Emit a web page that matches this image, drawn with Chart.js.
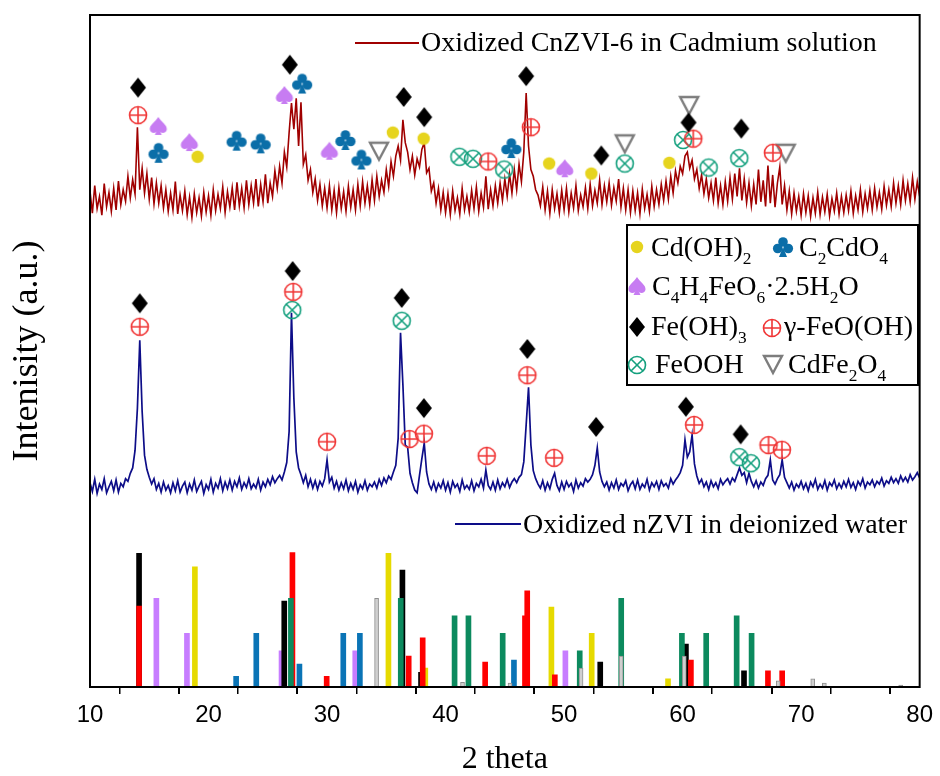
<!DOCTYPE html>
<html>
<head>
<meta charset="utf-8">
<script src="https://cdn.jsdelivr.net/npm/chart.js@4.4.1/dist/chart.umd.min.js"></script>
<style>
  html, body { margin: 0; padding: 0; background: #fff; }
  canvas { display: block; }
</style>
</head>
<body>
<canvas id="xrd" width="940" height="776"></canvas>
<script>
// x grid of the scans (2 theta, degrees)
const thetaStart = 10;
const thetaStep = 0.2;
const xMajorTicks = [10, 20, 30, 40, 50, 60, 70, 80];

// Oxidized nZVI in deionized water (offset, a.u.)
const blueTrace = [
  30.4, 29.1, 30.9, 28.8, 30.2, 29.4, 31.0, 28.9, 29.8, 30.6, // 10
  29.2, 30.8, 29.0, 30.3, 29.8, 31.0, 30.6, 31.8, 32.6, 35.2, // 12
  41.5, 51.6, 41.0, 34.5, 32.4, 31.2, 30.2, 31.0, 29.4, 30.3, // 14
  29.0, 30.5, 29.3, 30.0, 28.9, 30.4, 29.2, 30.7, 29.0, 29.9, // 16
  30.5, 28.9, 30.2, 29.3, 30.8, 29.1, 29.9, 30.6, 28.8, 30.1, // 18
  29.4, 30.9, 29.0, 30.3, 29.6, 31.0, 29.2, 30.5, 29.5, 30.8, // 20
  29.3, 30.6, 29.8, 31.1, 29.4, 30.4, 29.7, 31.0, 29.5, 30.2, // 22
  29.6, 30.9, 29.3, 30.5, 29.8, 30.9, 30.1, 31.3, 30.4, 31.0, // 24
  31.5, 30.8, 32.0, 33.4, 38.0, 55.7, 43.0, 35.0, 32.6, 31.6, // 26
  30.4, 31.5, 29.8, 30.9, 29.6, 30.7, 29.4, 30.6, 29.9, 31.0, // 28
  33.8, 30.5, 31.2, 29.6, 30.6, 29.3, 30.4, 29.5, 30.8, 29.2, // 30
  30.3, 29.4, 30.6, 29.0, 30.1, 29.5, 30.7, 29.3, 30.2, 29.8, // 32
  30.5, 29.6, 30.9, 30.0, 31.1, 30.4, 31.4, 30.9, 32.0, 33.0, // 34
  37.0, 52.7, 45.0, 36.0, 35.7, 31.8, 30.4, 29.3, 28.9, 31.5, // 36
  34.0, 36.3, 32.0, 30.2, 29.4, 30.5, 29.2, 30.3, 29.6, 30.7, // 38
  29.3, 30.4, 29.0, 30.6, 29.7, 30.2, 29.1, 30.8, 29.5, 30.0, // 40
  29.4, 30.7, 29.2, 30.3, 29.8, 30.9, 29.6, 32.3, 30.0, 29.4, // 42
  30.5, 29.3, 30.8, 29.5, 30.4, 29.8, 30.9, 29.7, 30.5, 31.0, // 44
  30.4, 31.2, 31.6, 33.5, 39.0, 44.6, 36.0, 32.2, 31.0, 30.2, // 46
  29.6, 30.7, 29.3, 30.4, 29.5, 30.9, 31.8, 30.0, 29.2, 30.5, // 48
  29.4, 30.6, 29.8, 30.3, 29.1, 30.8, 29.6, 30.4, 29.9, 31.0, // 50
  30.5, 30.9, 31.6, 33.0, 35.6, 32.0, 30.6, 29.8, 30.5, 29.3, // 52
  30.4, 29.6, 30.8, 29.4, 30.3, 29.9, 30.7, 29.2, 30.1, 30.6, // 54
  29.5, 30.8, 29.4, 30.2, 29.7, 30.9, 29.3, 30.4, 29.8, 30.6, // 56
  29.4, 30.7, 29.9, 30.3, 29.6, 31.0, 30.2, 30.8, 31.3, 31.9, // 58
  33.0, 36.8, 34.2, 35.0, 37.5, 33.2, 31.4, 30.3, 30.9, 29.8, // 60
  30.5, 29.4, 30.7, 29.8, 30.4, 29.5, 30.9, 30.1, 30.6, 31.0, // 62
  30.2, 31.1, 30.6, 31.6, 32.6, 31.5, 31.9, 30.4, 31.8, 30.6, // 64
  29.8, 30.7, 29.6, 30.5, 30.0, 31.0, 31.5, 33.8, 30.8, 30.2, // 66
  31.0, 31.6, 33.8, 31.2, 30.4, 29.6, 30.5, 29.3, 30.2, 29.7, // 68
  30.6, 29.5, 30.3, 29.2, 30.5, 29.8, 30.9, 29.4, 30.2, 29.6, // 70
  30.7, 29.3, 30.4, 29.9, 30.8, 29.5, 30.3, 29.6, 30.6, 29.8, // 72
  30.9, 29.7, 30.4, 29.4, 30.6, 30.0, 31.0, 29.6, 30.5, 30.1, // 74
  30.8, 29.8, 30.6, 30.2, 31.1, 29.9, 30.7, 30.3, 31.2, 30.4, // 76
  31.0, 30.3, 31.4, 30.6, 31.2, 30.5, 31.6, 30.8, 31.3, 31.9, // 78
  31.1
];

// Oxidized CnZVI-6 in Cadmium solution (offset, a.u.)
const redTrace = [
  73.8, 70.5, 74.6, 71.2, 73.0, 70.2, 74.9, 71.5, 73.6, 70.8, // 10
  74.2, 71.0, 75.3, 71.8, 74.0, 72.3, 76.0, 72.8, 75.5, 73.4, // 12
  83.3, 74.0, 77.2, 73.5, 76.4, 72.6, 75.8, 71.9, 75.0, 72.0, // 14
  74.6, 71.3, 74.0, 70.8, 73.5, 71.0, 75.2, 70.4, 73.2, 70.9, // 16
  73.8, 70.3, 72.9, 69.9, 73.4, 70.6, 72.8, 70.1, 73.6, 70.7, // 18
  73.1, 70.2, 74.0, 70.9, 73.3, 71.2, 74.4, 70.6, 73.7, 71.4, // 20
  74.3, 71.0, 75.1, 71.6, 74.2, 71.3, 75.4, 71.8, 74.6, 72.0, // 22
  75.6, 71.5, 74.8, 72.2, 76.3, 72.0, 75.0, 73.0, 76.8, 74.2, // 24
  77.5, 75.0, 79.6, 77.4, 82.5, 86.9, 83.0, 87.6, 80.5, 87.0, // 26
  77.8, 79.2, 75.4, 77.0, 73.6, 75.6, 72.4, 74.8, 71.6, 74.2, // 28
  71.3, 74.6, 71.0, 73.9, 70.6, 74.3, 71.2, 73.7, 70.8, 74.5, // 30
  71.4, 74.0, 71.0, 74.8, 71.6, 75.2, 72.0, 74.6, 71.8, 75.5, // 32
  72.4, 76.0, 73.0, 75.4, 73.6, 77.0, 74.5, 78.2, 76.0, 79.0, // 34
  80.5, 78.4, 84.4, 81.0, 79.6, 77.0, 79.0, 76.2, 78.6, 77.4, // 36
  80.0, 81.0, 76.5, 77.2, 73.8, 75.0, 72.0, 74.2, 71.0, 73.6, // 38
  70.6, 73.4, 70.3, 73.8, 70.9, 72.8, 70.4, 74.2, 71.0, 73.0, // 40
  70.7, 73.9, 71.2, 74.4, 70.8, 73.5, 71.4, 76.0, 71.1, 74.0, // 42
  71.6, 74.6, 72.0, 75.0, 72.4, 75.6, 73.0, 76.3, 73.5, 77.0, // 44
  74.0, 77.8, 75.2, 79.6, 88.4, 80.5, 77.0, 76.0, 74.0, 73.2, // 46
  71.6, 74.4, 71.0, 73.8, 70.5, 74.0, 71.2, 73.4, 70.6, 73.9, // 48
  71.0, 74.2, 70.7, 73.5, 71.3, 74.6, 70.9, 73.2, 71.5, 74.3, // 50
  71.2, 74.8, 71.6, 73.9, 72.0, 75.4, 71.8, 74.6, 72.2, 75.0, // 52
  71.7, 74.3, 72.3, 75.6, 71.4, 74.2, 71.0, 74.0, 70.6, 73.8, // 54
  70.9, 73.5, 70.4, 74.1, 71.2, 73.3, 70.8, 74.5, 71.5, 74.0, // 56
  71.8, 74.8, 72.4, 75.3, 72.6, 76.0, 73.5, 76.8, 75.0, 77.5, // 58
  76.4, 79.0, 79.6, 77.2, 78.4, 75.6, 77.0, 74.2, 76.2, 73.4, // 60
  75.6, 72.8, 75.0, 72.4, 75.8, 72.0, 74.6, 71.8, 75.2, 72.3, // 62
  75.8, 72.6, 76.4, 73.0, 77.2, 72.4, 75.6, 72.1, 75.0, 71.6, // 64
  74.8, 71.8, 77.0, 72.2, 75.4, 71.5, 77.6, 72.0, 76.2, 71.4, // 66
  75.0, 77.4, 71.8, 74.6, 71.0, 73.8, 70.4, 73.5, 70.8, 73.0, // 68
  70.2, 73.4, 70.6, 73.1, 70.0, 72.8, 70.5, 73.6, 70.3, 72.9, // 70
  70.7, 73.3, 70.1, 72.7, 70.8, 73.5, 70.4, 73.0, 70.6, 73.2, // 72
  70.9, 73.8, 70.5, 73.1, 71.0, 74.0, 70.7, 73.4, 71.2, 73.9, // 74
  71.0, 74.2, 71.4, 73.6, 71.1, 74.5, 71.7, 74.0, 71.5, 75.0, // 76
  72.0, 74.6, 71.8, 75.4, 72.4, 74.9, 72.2, 75.8, 72.6, 75.2, // 78
  73.0
];

// reference patterns: [2theta, relative height]
const stickFeOH3 = [[14.14, 19.9], [26.39, 12.8], [36.36, 17.4], [37.93, 2.2], [53.05, 3.7], [60.28, 6.4], [65.18, 2.4]];
const stickGammaFeOOH = [[14.14, 12.05], [27.08, 20.0], [29.97, 1.6], [36.89, 4.6], [38.07, 7.3], [43.34, 3.7], [46.7, 10.6], [46.89, 14.3], [49.22, 1.8], [60.7, 4.0], [67.2, 2.4], [68.4, 2.4]];
const stickFeOOH = [[26.95, 13.2], [36.22, 13.2], [40.76, 10.6], [41.93, 10.6], [44.82, 8.0], [51.32, 5.4], [54.82, 13.2], [59.94, 8.0], [61.99, 8.0], [64.56, 10.6], [65.82, 8.0]];
const stickCdOH2 = [[18.85, 17.9], [35.18, 19.9], [38.29, 2.8], [48.93, 11.9], [52.33, 8.0], [58.77, 1.2]];
const stickC2CdO4 = [[22.33, 1.6], [24.03, 8.0], [27.67, 3.4], [31.37, 8.0], [32.77, 8.0], [45.77, 4.0]];
const stickC4H4FeO6 = [[15.6, 13.2], [18.18, 8.0], [26.16, 5.4], [32.38, 5.4], [50.11, 5.4]];
const stickCdFe2O4 = [[34.18, 13.2], [41.43, 0.7], [45.44, 0.6], [51.43, 2.8], [54.82, 4.6], [60.14, 4.6], [68.07, 0.9], [70.98, 1.2], [71.96, 0.6], [78.4, 0.3]];

// phase marks on the top scan
const topFeOH3 = [[14.05, 89.2], [26.86, 92.6], [36.47, 87.8], [38.2, 84.8], [46.8, 90.9], [53.14, 79.1], [60.5, 84.0], [64.95, 83.1]];
const topGammaFeOOH = [[14.05, 85.1], [43.6, 78.2], [47.2, 83.3], [60.9, 81.6], [67.62, 79.5]];
const topFeOOH = [[41.17, 78.9], [42.32, 78.6], [44.95, 77.0], [55.12, 77.9], [60.04, 81.4], [62.2, 77.3], [64.78, 78.7]];
const topCdOH2 = [[19.08, 78.9], [35.55, 82.5], [38.15, 81.6], [48.74, 77.9], [52.3, 76.4], [58.88, 78.0]];
const topC2CdO4 = [[15.78, 79.5], [22.37, 81.3], [24.4, 80.9], [27.9, 89.8], [31.55, 81.4], [32.9, 78.5], [45.55, 80.2]];
const topC4H4FeO6 = [[15.76, 83.5], [18.38, 81.1], [26.4, 88.1], [30.2, 79.8], [50.06, 77.2]];
const topCdFe2O4 = [[34.38, 79.8], [55.12, 80.9], [60.55, 86.6], [68.7, 79.5]];

// phase marks on the bottom scan
const botFeOH3 = [[14.2, 57.1], [27.1, 61.9], [36.3, 57.9], [38.17, 41.5], [46.9, 50.3], [52.7, 38.7], [60.28, 41.7], [64.9, 37.6]];
const botGammaFeOOH = [[14.2, 53.6], [27.15, 58.8], [30.0, 36.5], [36.96, 36.9], [38.17, 37.7], [43.47, 34.4], [46.9, 46.4], [49.16, 34.1], [60.97, 39.0], [67.25, 36.0], [68.38, 35.3]];
const botFeOOH = [[27.06, 56.1], [36.3, 54.5], [64.78, 34.2], [65.76, 33.3]];

const SERIF = '"Liberation Serif", "Times New Roman", serif';

function makeSymbol(kind) {
  const s = 26, m = s / 2;
  const c = document.createElement('canvas');
  c.width = s; c.height = s;
  const g = c.getContext('2d');
  g.lineWidth = 1.6;
  if (kind === 'diamond') {
    g.fillStyle = '#000';
    g.beginPath();
    g.moveTo(m, m - 10); g.lineTo(m + 8, m); g.lineTo(m, m + 10); g.lineTo(m - 8, m);
    g.closePath(); g.fill();
  } else if (kind === 'plus' || kind === 'cross') {
    g.strokeStyle = kind === 'plus' ? '#f03535' : '#14a07e';
    const r = 8.5;
    g.beginPath(); g.arc(m, m, r, 0, Math.PI * 2); g.stroke();
    g.beginPath();
    if (kind === 'plus') {
      g.moveTo(m - r, m); g.lineTo(m + r, m); g.moveTo(m, m - r); g.lineTo(m, m + r);
    } else {
      const d = r * 0.707;
      g.moveTo(m - d, m - d); g.lineTo(m + d, m + d); g.moveTo(m + d, m - d); g.lineTo(m - d, m + d);
    }
    g.stroke();
  } else if (kind === 'dot') {
    g.fillStyle = '#e6d41e';
    g.beginPath(); g.arc(m, m, 6.2, 0, Math.PI * 2); g.fill();
  } else if (kind === 'tri') {
    g.strokeStyle = '#7d7d7d'; g.lineWidth = 2.4;
    g.beginPath();
    g.moveTo(m - 9, m - 8); g.lineTo(m + 9, m - 8); g.lineTo(m, m + 9);
    g.closePath(); g.stroke();
  } else if (kind === 'club') {
    g.fillStyle = '#0b6ea8';
    [[m, m - 5], [m - 5.3, m + 1.5], [m + 5.3, m + 1.5]].forEach(p => {
      g.beginPath(); g.arc(p[0], p[1], 4.8, 0, Math.PI * 2); g.fill();
    });
    g.beginPath(); g.moveTo(m, m); g.lineTo(m - 4, m + 10); g.lineTo(m + 4, m + 10); g.closePath(); g.fill();
  } else if (kind === 'spade') {
    g.fillStyle = '#c77cf2';
    g.beginPath();
    g.moveTo(m, m - 9);
    g.bezierCurveTo(m + 3, m - 4, m + 9, m - 1, m + 8.5, m + 3.5);
    g.bezierCurveTo(m + 8, m + 8, m + 2, m + 8, m, m + 4);
    g.bezierCurveTo(m - 2, m + 8, m - 8, m + 8, m - 8.5, m + 3.5);
    g.bezierCurveTo(m - 9, m - 1, m - 3, m - 4, m, m - 9);
    g.fill();
    g.beginPath(); g.moveTo(m, m + 2); g.lineTo(m - 3.5, m + 9); g.lineTo(m + 3.5, m + 9); g.closePath(); g.fill();
  }
  return c;
}

const sym = {};
['diamond', 'plus', 'cross', 'dot', 'tri', 'club', 'spade'].forEach(k => { sym[k] = makeSymbol(k); });

function pts(arr) { return arr.map(p => ({ x: p[0], y: p[1] })); }
function traceData(values) { return values.map((v, i) => ({ x: thetaStart + i * thetaStep, y: v })); }

const datasets = [];

// sticks; lower order is drawn on top
[
  [stickC4H4FeO6, '#c77dff', 8],
  [stickC2CdO4, '#0a74b6', 7],
  [stickCdOH2, '#e6da00', 6],
  [stickFeOH3, '#000000', 5],
  [stickGammaFeOOH, '#ff0000', 4],
  [stickFeOOH, '#0c8a5e', 3]
].forEach(s => {
  datasets.push({
    type: 'bar', data: pts(s[0]), backgroundColor: s[1], borderWidth: 0,
    barThickness: 5, grouped: false, order: s[2]
  });
});
datasets.push({
  type: 'bar', data: pts(stickCdFe2O4), backgroundColor: '#cfcfcf', borderColor: '#8f8f8f',
  borderWidth: 1, barThickness: 4, grouped: false, order: 2
});

datasets.push({ type: 'line', data: traceData(redTrace), borderColor: '#a00000', borderWidth: 1.6, pointRadius: 0, fill: false, order: 1 });
datasets.push({ type: 'line', data: traceData(blueTrace), borderColor: '#0d0d88', borderWidth: 1.7, pointRadius: 0, fill: false, order: 1 });

[
  [topFeOH3, 'diamond'], [topGammaFeOOH, 'plus'], [topFeOOH, 'cross'], [topCdOH2, 'dot'],
  [topC2CdO4, 'club'], [topC4H4FeO6, 'spade'], [topCdFe2O4, 'tri'],
  [botFeOH3, 'diamond'], [botGammaFeOOH, 'plus'], [botFeOOH, 'cross']
].forEach(m => {
  datasets.push({ type: 'scatter', data: pts(m[0]), pointStyle: sym[m[1]], pointRadius: 6, order: 0 });
});

function drawChem(c, x, y, text, size) {
  let cx = x;
  for (let i = 0; i < text.length; i++) {
    let ch = text[i], sub = false;
    if (ch === '_') { sub = true; ch = text[++i]; }
    c.font = (sub ? size * 0.62 : size) + 'px ' + SERIF;
    c.fillText(ch, cx, sub ? y + size * 0.27 : y);
    cx += c.measureText(ch).width;
  }
}

const decor = {
  id: 'decor',
  afterDraw(chart) {
    const c = chart.ctx, a = chart.chartArea;
    c.save();
    c.strokeStyle = '#000';
    c.lineWidth = 2;
    c.strokeRect(a.left, a.top, a.right - a.left, a.bottom - a.top);

    // scan labels
    c.fillStyle = '#000';
    c.textBaseline = 'alphabetic';
    c.textAlign = 'left';
    c.lineWidth = 2;
    c.strokeStyle = '#a00000';
    c.beginPath(); c.moveTo(355, 43); c.lineTo(419, 43); c.stroke();
    c.font = '28px ' + SERIF;
    c.fillText('Oxidized CnZVI-6 in Cadmium solution', 421, 51);
    c.strokeStyle = '#0d0d88';
    c.beginPath(); c.moveTo(455, 524); c.lineTo(521, 524); c.stroke();
    c.fillText('Oxidized nZVI in deionized water', 523, 533);

    // phase key
    c.strokeStyle = '#000';
    c.lineWidth = 2;
    c.strokeRect(627, 225, 291, 160);
    const key = [
      ['dot', 637, 247, 'Cd(OH)_2', 651, 256],
      ['club', 783, 247, 'C_2CdO_4', 799, 256],
      ['spade', 637, 286, 'C_4H_4FeO_6·2.5H_2O', 652, 295],
      ['diamond', 637, 327, 'Fe(OH)_3', 651, 335],
      ['plus', 772, 328, 'γ-FeO(OH)', 784, 335],
      ['cross', 637, 365, 'FeOOH', 655, 373],
      ['tri', 773, 364, 'CdFe_2O_4', 788, 373]
    ];
    key.forEach(k => {
      const img = sym[k[0]];
      c.drawImage(img, k[1] - img.width / 2, k[2] - img.height / 2);
      drawChem(c, k[4], k[5], k[3], 28);
    });
    c.restore();
  }
};

new Chart(document.getElementById('xrd'), {
  type: 'scatter',
  data: { datasets: datasets },
  options: {
    responsive: false,
    animation: false,
    layout: { padding: { top: 15, right: 17, left: 0, bottom: 0 } },
    plugins: { legend: { display: false }, tooltip: { enabled: false } },
    scales: {
      x: {
        type: 'linear', min: 10, max: 80, offset: false,
        ticks: {
          stepSize: 5, autoSkip: false, maxRotation: 0, padding: 7, color: '#000',
          font: { family: '"Liberation Sans", Arial, sans-serif', size: 24 },
          callback: v => (xMajorTicks.includes(v) ? String(v) : '')
        },
        grid: {
          drawOnChartArea: false, tickLength: 7, color: '#000',
          lineWidth: ctx => (ctx.tick && xMajorTicks.includes(ctx.tick.value) ? 2 : 1.5)
        },
        border: { display: false },
        title: {
          display: true, text: '2 theta', color: '#000',
          font: { family: SERIF, size: 32, lineHeight: 1 }, padding: { top: 0, bottom: 0 }
        },
        afterFit: s => { s.height = 89; }
      },
      y: {
        min: 0, max: 100,
        ticks: { display: false },
        grid: { display: false },
        border: { display: false },
        title: {
          display: true, text: 'Intenisity (a.u.)', color: '#000',
          font: { family: SERIF, size: 36, lineHeight: 1 }, padding: { top: 10, bottom: 0 }
        },
        afterFit: s => { s.width = 90; }
      }
    }
  },
  plugins: [decor]
});
</script>
</body>
</html>
